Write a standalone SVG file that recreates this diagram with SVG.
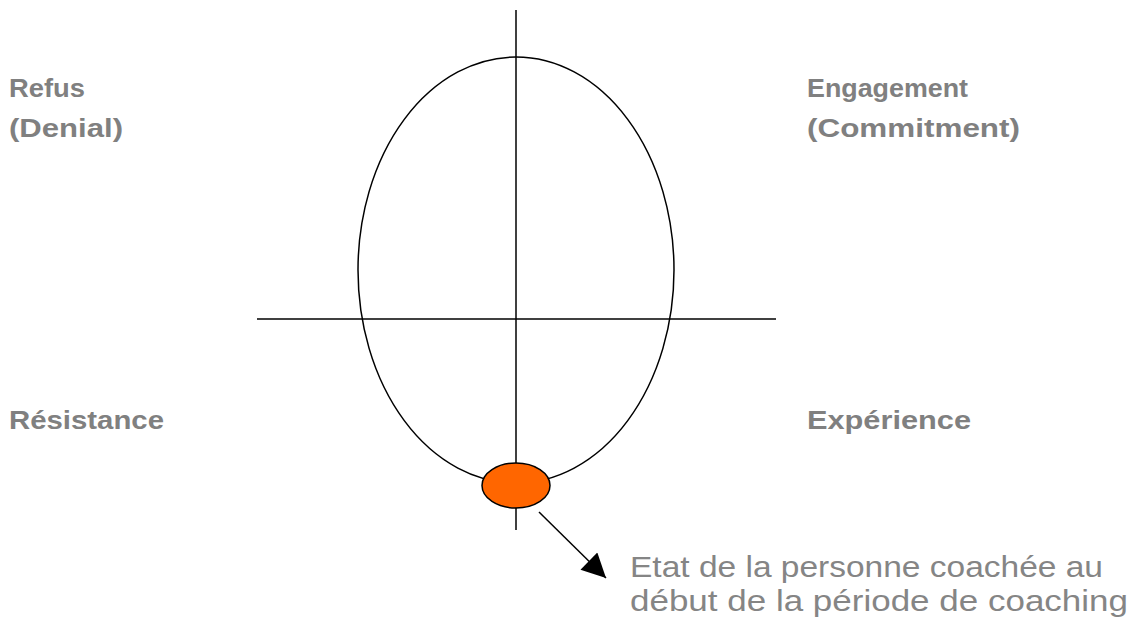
<svg xmlns="http://www.w3.org/2000/svg" width="1128" height="617" viewBox="0 0 1128 617">
<style>
.lbl{font-family:"Liberation Sans",Arial,sans-serif;font-weight:bold;font-size:25px;fill:#808080}
.note{font-family:"Liberation Sans",Arial,sans-serif;font-size:29px;fill:#858585}
.ln{stroke:#000;stroke-width:1.5;fill:none}
</style>
<defs>
<marker id="ah2" viewBox="0 0 20 20" refX="20" refY="10" markerWidth="26" markerHeight="24" orient="auto" markerUnits="userSpaceOnUse">
<path d="M0,0 L20,10 L0,20 z" fill="#000"/>
</marker>
</defs>
<rect width="1128" height="617" fill="#fff"/>
<g id="axes">
<line class="ln" x1="516" y1="10" x2="516" y2="530"/>
<line class="ln" x1="257" y1="319" x2="776" y2="319"/>
</g>
<g id="cycle">
<ellipse class="ln" cx="516" cy="270" rx="158" ry="213"/>
</g>
<g id="start">
<ellipse cx="516" cy="485.5" rx="34" ry="22.5" fill="#ff6600" stroke="#000" stroke-width="1.5"/>
</g>
<g id="connectors">
<line class="ln" x1="539" y1="512" x2="606" y2="578" marker-end="url(#ah2)"/>
</g>
<g id="refus">
<text class="lbl" x="9" y="97" textLength="76" lengthAdjust="spacingAndGlyphs">Refus</text>
<text class="lbl" x="9" y="137" textLength="114" lengthAdjust="spacingAndGlyphs">(Denial)</text>
</g>
<g id="engagement">
<text class="lbl" x="807" y="97" textLength="161" lengthAdjust="spacingAndGlyphs">Engagement</text>
<text class="lbl" x="807" y="137" textLength="213" lengthAdjust="spacingAndGlyphs">(Commitment)</text>
</g>
<g id="resistance">
<text class="lbl" x="9" y="429" textLength="155" lengthAdjust="spacingAndGlyphs">Résistance</text>
</g>
<g id="experience">
<text class="lbl" x="807" y="429" textLength="164" lengthAdjust="spacingAndGlyphs">Expérience</text>
</g>
<g id="note">
<text class="note" x="630" y="577" textLength="473" lengthAdjust="spacingAndGlyphs">Etat de la personne coachée au</text>
<text class="note" x="630" y="611" textLength="498" lengthAdjust="spacingAndGlyphs">début de la période de coaching</text>
</g>
</svg>
